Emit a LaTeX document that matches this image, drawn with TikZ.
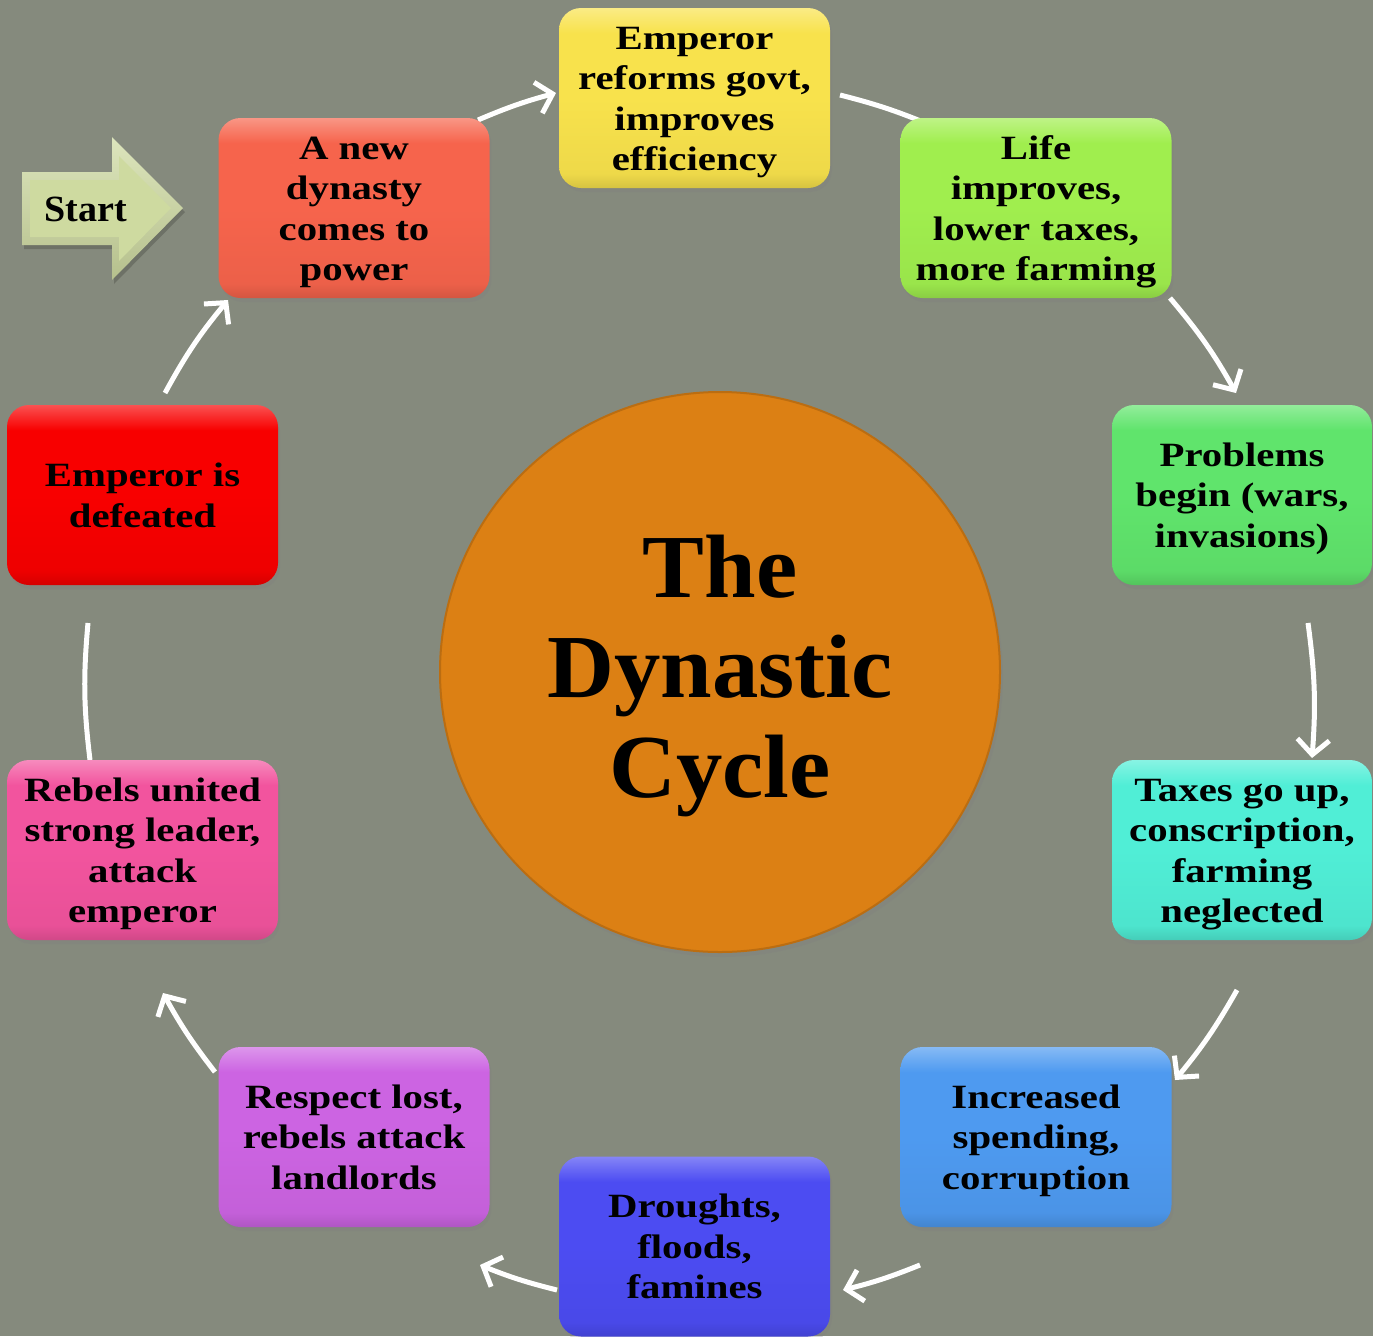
\documentclass[tikz,border=0pt]{standalone}
\usepackage{fontspec}
\newfontfamily\boxfont{Liberation Serif}[FakeStretch=1.2]
\newfontfamily\titlefont{Liberation Serif}[FakeStretch=1.03]
\usetikzlibrary{arrows.meta,shadows}

\definecolor{bg}{RGB}{133,138,125}
\definecolor{cA}{RGB}{246,100,76}
\definecolor{cB}{RGB}{248,226,76}
\definecolor{cC}{RGB}{160,238,78}
\definecolor{cD}{RGB}{96,228,108}
\definecolor{cE}{RGB}{80,238,214}
\definecolor{cF}{RGB}{78,154,240}
\definecolor{cG}{RGB}{76,76,242}
\definecolor{cH}{RGB}{204,100,226}
\definecolor{cI}{RGB}{242,84,158}
\definecolor{cJ}{RGB}{248,0,0}
\definecolor{hubc}{RGB}{220,128,20}
\definecolor{startc}{RGB}{206,218,160}
\colorlet{boxc}{white}

% line struts giving a fixed line box (height + depth = line spacing)
\newcommand{\lnstrut}{\rule[-8.5pt]{0pt}{40.5pt}}
\newcommand{\ttlstrut}{\rule[-25pt]{0pt}{100pt}}

\pgfdeclareverticalshading[boxc]{gloss}{100bp}{%
  color(0bp)=(boxc!86!black); color(25bp)=(boxc!86!black);
  color(29bp)=(boxc!96!black); color(50bp)=(boxc);
  color(68bp)=(boxc); color(72bp)=(boxc!82!white);
  color(75bp)=(boxc!68!white); color(100bp)=(boxc!68!white)}

\tikzset{
  cyclebox/.style={/utils/exec={\colorlet{boxc}{#1}}, shade, shading=gloss,
    rounded corners=22pt, minimum width=271pt, minimum height=180pt,
    inner sep=0pt, align=center, text=black,
    font=\boxfont\bfseries\fontsize{34}{40.5}\selectfont,
    drop shadow={shadow xshift=2pt, shadow yshift=-4pt, opacity=0.3}},
  cycline/.style={draw=white, line width=5pt},
  cyctip/.style={-{Straight Barb[length=15pt,width=32pt]}}
}

\begin{document}
\begin{tikzpicture}[x=1pt,y=-1pt]
\useasboundingbox (0,0) rectangle (1373,1336);
\fill[bg] (0,0) rectangle (1373,1336);

% arrow end points
\coordinate (a1s) at (478,120);  \coordinate (a1e) at (556,93);
\coordinate (a2s) at (840,95);   \coordinate (a2e) at (928,124);
\coordinate (a3s) at (1170,298); \coordinate (a3e) at (1236,393);
\coordinate (a4s) at (1308,623); \coordinate (a4e) at (1312,758);
\coordinate (a5s) at (1237,990); \coordinate (a5e) at (1175,1080);
\coordinate (a6s) at (920,1265); \coordinate (a6e) at (843,1290);
\coordinate (a7s) at (557,1290); \coordinate (a7e) at (480,1265);
\coordinate (a8s) at (215,1072); \coordinate (a8e) at (163,993);
\coordinate (a9s) at (90,760);   \coordinate (a9e) at (88,623);
\coordinate (a10s) at (165,393); \coordinate (a10e) at (228,300);

\draw[cycline,cyctip] (a1s) to[bend left=4] (a1e);
\draw[cycline] (a2s) to[bend left=4] (a2e);
\draw[cycline,cyctip] (a3s) to[bend left=5.5] (a3e);
\draw[cycline,cyctip] (a4s) to[bend left=6] (a4e);
\draw[cycline,cyctip] (a5s) to[bend left=5] (a5e);
\draw[cycline,cyctip] (a6s) to[bend left=4] (a6e);
\draw[cycline,cyctip] (a7s) to[bend left=4] (a7e);
\draw[cycline,cyctip] (a8s) to[bend left=4.5] (a8e);
\draw[cycline] (a9s) to[bend left=6] (a9e);
\draw[cycline,cyctip] (a10s) to[bend left=5.5] (a10e);

% central circle
\node[circle, minimum size=560pt, inner sep=0pt, fill=hubc,
      draw=hubc!85!black, line width=2pt, align=center,
      font=\titlefont\bfseries\fontsize{90}{100}\selectfont,
      drop shadow={shadow xshift=3pt, shadow yshift=-5pt, opacity=0.3}]
      (hub) at (720,672) {\ttlstrut The\\Dynastic\\Cycle\ttlstrut};

% boxes
\node[cyclebox=cA] (b1) at (354,208) {\lnstrut A new\\dynasty\\comes to\\power\lnstrut};
\node[cyclebox=cB] (b2) at (694.5,98) {\lnstrut Emperor\\reforms govt,\\improves\\efficiency\lnstrut};
\node[cyclebox=cC] (b3) at (1036,208) {\lnstrut Life\\improves,\\lower taxes,\\more farming\lnstrut};
\node[cyclebox=cD, minimum width=260pt] (b4) at (1242,495) {\lnstrut Problems\\begin (wars,\\invasions)\lnstrut};
\node[cyclebox=cE, minimum width=260pt] (b5) at (1242,850) {\lnstrut Taxes go up,\\conscription,\\farming\\neglected\lnstrut};
\node[cyclebox=cF] (b6) at (1036,1137) {\lnstrut Increased\\spending,\\corruption\lnstrut};
\node[cyclebox=cG] (b7) at (694.5,1246.5) {\lnstrut Droughts,\\floods,\\famines\lnstrut};
\node[cyclebox=cH] (b8) at (354,1137) {\lnstrut Respect lost,\\rebels attack\\landlords\lnstrut};
\node[cyclebox=cI] (b9) at (142.5,850) {\lnstrut Rebels united\\strong leader,\\attack\\emperor\lnstrut};
\node[cyclebox=cJ] (b10) at (142.5,495) {\lnstrut Emperor is\\defeated\lnstrut};

% start arrow
\fill[black, opacity=0.18] (24,176) -- (114,176) -- (114,141) -- (185,212)
  -- (114,284) -- (114,249) -- (24,249) -- cycle;
\shade[top color=startc!70!white, bottom color=startc!88!black]
  (22,172) -- (112,172) -- (112,137) -- (183,208) -- (112,280)
  -- (112,245) -- (22,245) -- cycle;
\fill[startc] (30,180) -- (119,180) -- (119,156) -- (171,208) -- (119,261)
  -- (119,237) -- (30,237) -- cycle;
\node[font=\titlefont\bfseries\fontsize{37}{40}\selectfont, text=black]
  (start) at (86,209) {Start};
\end{tikzpicture}
\end{document}
